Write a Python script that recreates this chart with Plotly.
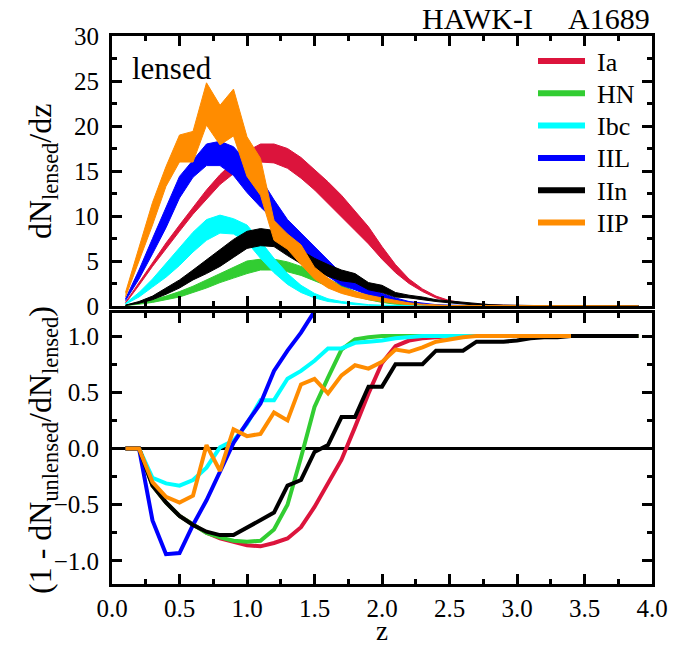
import plotly.graph_objects as go

# ---------------- data ----------------
z_top = [0.1, 0.2, 0.3, 0.4, 0.5, 0.6, 0.7, 0.8, 0.9, 1.0,
         1.1, 1.2, 1.3, 1.4, 1.5, 1.6, 1.7, 1.8, 1.9, 2.0,
         2.1, 2.2, 2.3, 2.4, 2.5, 2.6, 2.7, 2.8, 2.9, 3.0,
         3.1, 3.2, 3.3, 3.4, 3.5, 3.6, 3.7, 3.8, 3.9]

names = ["Ia", "HN", "Ibc", "IIL", "IIn", "IIP"]
colors = ["#DC143C", "#32CD32", "#00FFFF", "#0000FF", "#000000", "#FF8C00"]

# top panel: lensed dN/dz bands (upper / lower edges)
Ia_hi = [0.4, 2.6, 4.8, 7.0, 9.0, 11.0, 12.9, 14.6, 16.0, 17.2,
         18.0, 18.0, 17.5, 16.5, 15.2, 13.8, 12.3, 10.6, 8.8, 6.6,
         4.6, 3.0, 1.9, 1.1, 0.6, 0.35, 0.2, 0.12, 0.08, 0.05,
         0.03, 0.02, 0.02, 0.01, 0.01, 0.01, 0.0, 0.0, 0.0]
Ia_lo = [0.3, 2.3, 4.4, 6.4, 8.3, 10.2, 11.9, 13.5, 14.7, 15.6,
         16.0, 15.9, 15.3, 14.2, 12.9, 11.4, 9.9, 8.4, 6.9, 5.2,
         3.7, 2.5, 1.6, 0.9, 0.5, 0.3, 0.15, 0.1, 0.06, 0.04,
         0.02, 0.01, 0.01, 0.01, 0.0, 0.0, 0.0, 0.0, 0.0]
HN_hi = [0.1, 0.4, 0.7, 1.1, 1.6, 2.2, 2.9, 3.6, 4.3, 5.0,
         5.2, 5.2, 4.9, 4.4, 3.8, 3.0, 2.3, 1.6, 1.0, 0.6,
         0.35, 0.2, 0.1, 0.06, 0.03, 0.02, 0.01, 0.01, 0.0, 0.0,
         0.0, 0.0, 0.0, 0.0, 0.0, 0.0, 0.0, 0.0, 0.0]
HN_lo = [0.05, 0.2, 0.4, 0.7, 1.0, 1.5, 2.0, 2.6, 3.1, 3.6,
         4.0, 4.0, 3.8, 3.4, 2.8, 2.2, 1.6, 1.1, 0.7, 0.4,
         0.2, 0.1, 0.05, 0.03, 0.02, 0.01, 0.0, 0.0, 0.0, 0.0,
         0.0, 0.0, 0.0, 0.0, 0.0, 0.0, 0.0, 0.0, 0.0]
Ibc_hi = [0.3, 1.5, 3.0, 4.7, 6.5, 8.2, 9.6, 10.1, 9.7, 9.0,
          7.2, 5.3, 3.6, 2.3, 1.4, 0.8, 0.5, 0.3, 0.15, 0.08,
          0.04, 0.02, 0.01, 0.01, 0.0, 0.0, 0.0, 0.0, 0.0, 0.0,
          0.0, 0.0, 0.0, 0.0, 0.0, 0.0, 0.0, 0.0, 0.0]
Ibc_lo = [0.2, 1.0, 2.1, 3.2, 4.5, 6.0, 7.3, 8.1, 8.0, 7.1,
          5.3, 3.7, 2.4, 1.5, 0.9, 0.5, 0.3, 0.15, 0.08, 0.04,
          0.02, 0.01, 0.0, 0.0, 0.0, 0.0, 0.0, 0.0, 0.0, 0.0,
          0.0, 0.0, 0.0, 0.0, 0.0, 0.0, 0.0, 0.0, 0.0]
IIL_hi = [0.8, 4.0, 7.5, 11.0, 14.4, 16.2, 18.0, 18.3, 17.7, 16.0,
          14.2, 11.8, 9.6, 8.1, 6.6, 5.1, 3.6, 2.7, 2.1, 1.4,
          0.9, 0.5, 0.3, 0.15, 0.08, 0.04, 0.02, 0.01, 0.0, 0.0,
          0.0, 0.0, 0.0, 0.0, 0.0, 0.0, 0.0, 0.0, 0.0]
IIL_lo = [0.6, 3.0, 5.8, 8.7, 12.0, 14.3, 15.6, 15.6, 14.5, 12.6,
          11.0, 9.6, 7.7, 5.9, 4.6, 3.3, 2.3, 1.8, 1.2, 0.9,
          0.5, 0.3, 0.15, 0.08, 0.04, 0.02, 0.01, 0.0, 0.0, 0.0,
          0.0, 0.0, 0.0, 0.0, 0.0, 0.0, 0.0, 0.0, 0.0]
IIn_hi = [0.1, 0.5, 1.1, 2.0, 2.9, 4.0, 5.1, 6.2, 7.4, 8.3,
          8.6, 8.4, 7.0, 6.2, 5.3, 4.6, 4.0, 3.6, 2.6, 2.3,
          1.5, 1.2, 1.0, 0.7, 0.55, 0.4, 0.25, 0.15, 0.1, 0.06,
          0.04, 0.03, 0.02, 0.01, 0.01, 0.0, 0.0, 0.0, 0.0]
IIn_lo = [0.05, 0.3, 0.7, 1.3, 2.0, 2.9, 3.6, 4.4, 5.4, 6.4,
          6.7, 6.6, 5.6, 4.7, 4.0, 3.3, 2.8, 2.6, 1.8, 1.5,
          1.0, 0.9, 0.7, 0.5, 0.35, 0.2, 0.1, 0.06, 0.04, 0.02,
          0.01, 0.01, 0.0, 0.0, 0.0, 0.0, 0.0, 0.0, 0.0]
IIP_hi = [1.5, 6.5, 11.5, 15.5, 19.0, 19.4, 24.8, 22.3, 24.1, 18.8,
          16.4, 9.5, 8.0, 6.8, 4.3, 3.1, 2.1, 1.6, 1.2, 0.9,
          0.6, 0.35, 0.2, 0.1, 0.05, 0.03, 0.01, 0.0, 0.0, 0.0,
          0.0, 0.0, 0.0, 0.0, 0.0, 0.0, 0.0, 0.0, 0.0]
IIP_lo = [1.0, 5.0, 9.0, 13.3, 16.0, 16.0, 20.1, 17.9, 18.9, 14.4,
          12.3, 7.3, 6.3, 4.6, 3.0, 2.0, 1.4, 1.0, 0.7, 0.5,
          0.3, 0.15, 0.1, 0.05, 0.02, 0.01, 0.0, 0.0, 0.0, 0.0,
          0.0, 0.0, 0.0, 0.0, 0.0, 0.0, 0.0, 0.0, 0.0]

# bottom panel: 1 - dN_unlensed/dN_lensed
z_bot = z_top
Ia_r = [0.0, 0.0, -0.33, -0.48, -0.60, -0.68, -0.75, -0.80, -0.83, -0.86,
        -0.87, -0.84, -0.80, -0.70, -0.52, -0.31, -0.10, 0.19, 0.49, 0.76,
        0.91, 0.96, 0.98, 0.99, 1.0, 1.0, 1.0, 1.0, 1.0, 1.0,
        1.0, 1.0, 1.0, 1.0, 1.0, 1.0, 1.0, 1.0, 1.0]
HN_r = [0.0, 0.0, -0.33, -0.48, -0.60, -0.68, -0.75, -0.79, -0.82, -0.83,
        -0.82, -0.72, -0.50, -0.08, 0.37, 0.63, 0.88, 0.97, 0.99, 1.0,
        1.0, 1.0, 1.0, 1.0, 1.0, 1.0, 1.0, 1.0, 1.0, 1.0,
        1.0, 1.0, 1.0, 1.0, 1.0, 1.0, 1.0, 1.0, 1.0]
Ibc_r = [0.0, 0.0, -0.26, -0.31, -0.33, -0.28, -0.17, 0.01, 0.07, 0.22,
         0.43, 0.43, 0.62, 0.69, 0.78, 0.89, 0.89, 0.94, 0.95, 0.96,
         0.98, 0.99, 1.0, 1.0, 1.0, 1.0, 1.0, 1.0, 1.0, 1.0,
         1.0, 1.0, 1.0, 1.0, None, None, None, None, None]
IIL_r = [0.0, 0.0, -0.64, -0.94, -0.93, -0.68, -0.46, -0.21, 0.05, 0.23,
         0.40, 0.69, 0.87, 1.03, 1.22, None, None, None, None, None,
         None, None, None, None, None, None, None, None, None, None,
         None, None, None, None, None, None, None, None, None]
IIn_r = [0.0, 0.0, -0.33, -0.48, -0.60, -0.68, -0.74, -0.77, -0.77, -0.70,
         -0.64, -0.57, -0.33, -0.28, -0.03, 0.03, 0.28, 0.28, 0.55, 0.55,
         0.75, 0.75, 0.75, 0.87, 0.87, 0.87, 0.95, 0.95, 0.95, 0.96,
         0.98, 0.99, 0.99, 1.0, 1.0, 1.0, 1.0, 1.0, 1.0]
IIP_r = [0.0, 0.0, -0.30, -0.43, -0.48, -0.42, 0.03, -0.20, 0.17, 0.11,
         0.13, 0.32, 0.25, 0.57, 0.62, 0.49, 0.65, 0.74, 0.71, 0.77,
         0.88, 0.86, 0.90, 0.95, 0.97, 0.99, 1.0, 1.0, 1.0, 1.0,
         1.0, 1.0, 1.0, 1.0, None, None, None, None, None]

his = [Ia_hi, HN_hi, Ibc_hi, IIL_hi, IIn_hi, IIP_hi]
los = [Ia_lo, HN_lo, Ibc_lo, IIL_lo, IIn_lo, IIP_lo]
ratios = [Ia_r, HN_r, Ibc_r, IIL_r, IIn_r, IIP_r]

y_top_ticks = [0, 5, 10, 15, 20, 25, 30]
y_bot_ticks = [-1.0, -0.5, 0.0, 0.5, 1.0]
x_ticks = [0.0, 0.5, 1.0, 1.5, 2.0, 2.5, 3.0, 3.5, 4.0]

# ---------------- figure ----------------
FONT = "Liberation Serif, Times New Roman, serif"
W, H = 688, 648
L, R, T, B = 112, 36, 36, 64
PW, PH = W - L - R, H - T - B


def px_x(px):
    return (px - L) / PW


def px_y(py):
    return (H - B - py) / PH


fig = go.Figure()

for name, c, hi, lo in zip(names, colors, his, los):
    fig.add_trace(go.Scatter(
        x=z_top + z_top[::-1], y=hi + lo[::-1],
        fill="toself", fillcolor=c, mode="lines",
        line=dict(color=c, width=1), showlegend=False, name=name,
        xaxis="x", yaxis="y", hoverinfo="skip"))

for name, c, r in zip(names, colors, ratios):
    fig.add_trace(go.Scatter(
        x=z_bot, y=r, mode="lines", line=dict(color=c, width=4),
        showlegend=False, name=name, xaxis="x2", yaxis="y2",
        connectgaps=False))

top_dom = [px_y(306), 1.0]
bot_dom = [0.0, px_y(313)]

tickfont = dict(family=FONT, size=25, color="black")
common_x = dict(range=[0, 4], tickvals=x_ticks, ticks="inside", ticklen=10,
                tickwidth=3, tickcolor="black", showline=True, linewidth=3,
                linecolor="black", mirror="ticks", showgrid=False,
                zeroline=False, automargin=False,
                minor=dict(ticks="inside", ticklen=5, tickwidth=3,
                           tickcolor="black", dtick=0.25, showgrid=False))
common_y = dict(ticks="inside", ticklen=10, tickwidth=3, tickcolor="black",
                showline=True, linewidth=3, linecolor="black", mirror="ticks",
                showgrid=False, tickfont=tickfont, automargin=False,
                ticklabelstandoff=5)

# hand-drawn legend (in the top panel, upper right)
shapes = []
annotations = []
for i, (name, c) in enumerate(zip(names, colors)):
    yc = 61 + 32.3 * i
    shapes.append(dict(type="line", xref="paper", yref="paper",
                       x0=px_x(538), x1=px_x(585), y0=px_y(yc), y1=px_y(yc),
                       line=dict(color=c, width=6)))
    annotations.append(dict(text=name, x=px_x(595), y=px_y(yc + 1),
                            xref="paper", yref="paper", xanchor="left",
                            yanchor="middle", showarrow=False,
                            font=dict(family=FONT, size=26, color="black")))

annotations += [
    dict(text="HAWK-I", x=px_x(420), y=px_y(18),
         xref="paper", yref="paper", xanchor="left", yanchor="middle",
         showarrow=False, font=dict(family=FONT, size=30)),
    dict(text="A1689", x=px_x(652), y=px_y(18),
         xref="paper", yref="paper", xanchor="right", yanchor="middle",
         showarrow=False, font=dict(family=FONT, size=30)),
    dict(text="lensed", x=px_x(130), y=px_y(68),
         xref="paper", yref="paper", xanchor="left", yanchor="middle",
         showarrow=False, font=dict(family=FONT, size=31)),
    dict(text="dN<sub>lensed</sub>/dz", x=px_x(42), y=px_y(172),
         xref="paper", yref="paper", xanchor="center", yanchor="middle",
         textangle=-90, showarrow=False, font=dict(family=FONT, size=32)),
    dict(text="(1 - dN<sub>unlensed</sub>/dN<sub>lensed</sub>)",
         x=px_x(42), y=px_y(450), xref="paper", yref="paper",
         xanchor="center", yanchor="middle", textangle=-90,
         showarrow=False, font=dict(family=FONT, size=32)),
    dict(text="z", x=px_x(382), y=px_y(647), xref="paper", yref="paper",
         xanchor="center", yanchor="bottom", showarrow=False, borderpad=0,
         font=dict(family=FONT, size=27)),
]

fig.update_layout(
    width=W, height=H,
    margin=dict(l=L, r=R, t=T, b=B),
    paper_bgcolor="white", plot_bgcolor="white",
    font=dict(family=FONT, color="black"),
    showlegend=False,
    xaxis=dict(domain=[0, 1], anchor="y", showticklabels=False, **common_x),
    xaxis2=dict(domain=[0, 1], anchor="y2", matches="x", showticklabels=True,
                tickformat=".1f", tickfont=tickfont, **common_x),
    yaxis=dict(domain=top_dom, anchor="x", range=[0, 30], tickvals=y_top_ticks,
               zeroline=False,
               minor=dict(ticks="inside", ticklen=5, tickwidth=3,
                          tickcolor="black", dtick=2.5, showgrid=False),
               **common_y),
    yaxis2=dict(domain=bot_dom, anchor="x2", range=[-1.205, 1.205],
                tickvals=y_bot_ticks, tickformat=".1f",
                zeroline=True, zerolinecolor="black", zerolinewidth=3,
                minor=dict(ticks="inside", ticklen=5, tickwidth=3,
                           tickcolor="black", dtick=0.25, showgrid=False),
                **common_y),
    shapes=shapes,
    annotations=annotations,
)

fig.write_html("out.html")
